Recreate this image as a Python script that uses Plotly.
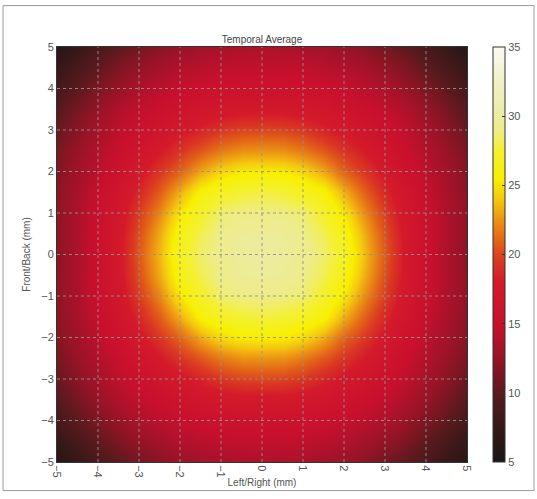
import plotly.graph_objects as go

# Grid coordinates (mm)
x_mm = [-5.0, -4.5, -4.0, -3.5, -3.0, -2.5, -2.0, -1.5, -1.0, -0.5, 0.0,
        0.5, 1.0, 1.5, 2.0, 2.5, 3.0, 3.5, 4.0, 4.5, 5.0]
y_mm = list(x_mm)

# Temporal average values, one list per row (y value in the name)
row_y_5 = [6.0, 7.5, 8.9, 10.1, 11.1, 12.0, 12.6, 13.1, 13.4, 13.6, 13.7, 13.6, 13.4, 13.1, 12.6, 12.0, 11.1, 10.1, 8.9, 7.5, 6.0]
row_y_45 = [7.4, 8.8, 10.2, 11.5, 12.4, 13.2, 13.9, 14.2, 14.5, 14.7, 14.7, 14.7, 14.5, 14.2, 13.9, 13.2, 12.4, 11.5, 10.2, 8.8, 7.4]
row_y_4 = [8.6, 10.1, 11.5, 12.6, 13.7, 14.3, 14.9, 15.3, 15.7, 15.8, 15.8, 15.8, 15.7, 15.3, 14.9, 14.3, 13.7, 12.6, 11.5, 10.1, 8.6]
row_y_35 = [9.7, 11.2, 12.5, 13.8, 14.6, 15.3, 16.1, 16.8, 17.2, 17.5, 17.5, 17.5, 17.2, 16.8, 16.1, 15.3, 14.6, 13.8, 12.5, 11.2, 9.7]
row_y_3 = [10.6, 12.0, 13.3, 14.5, 15.5, 16.6, 17.6, 18.5, 19.4, 19.9, 20.0, 19.9, 19.4, 18.5, 17.6, 16.6, 15.5, 14.5, 13.3, 12.0, 10.6]
row_y_25 = [11.3, 12.6, 13.9, 15.1, 16.6, 18.0, 19.3, 20.6, 21.7, 22.4, 22.5, 22.4, 21.7, 20.6, 19.3, 18.0, 16.6, 15.1, 13.9, 12.6, 11.3]
row_y_2 = [11.7, 13.1, 14.4, 15.9, 17.6, 19.4, 21.0, 23.1, 24.6, 25.3, 25.4, 25.3, 24.6, 23.1, 21.0, 19.4, 17.6, 15.9, 14.4, 13.1, 11.7]
row_y_15 = [12.0, 13.4, 14.9, 16.7, 18.7, 20.8, 23.3, 25.8, 26.9, 27.6, 27.8, 27.6, 26.9, 25.8, 23.3, 20.8, 18.7, 16.7, 14.9, 13.4, 12.0]
row_y_1 = [12.2, 13.6, 15.3, 17.2, 19.6, 22.2, 25.2, 27.2, 28.6, 28.9, 29.0, 28.9, 28.6, 27.2, 25.2, 22.2, 19.6, 17.2, 15.3, 13.6, 12.2]
row_y_05 = [12.1, 13.7, 15.4, 17.5, 20.3, 23.2, 26.4, 28.1, 29.1, 29.6, 29.7, 29.6, 29.1, 28.1, 26.4, 23.2, 20.3, 17.5, 15.4, 13.7, 12.1]
row_y_0 = [12.0, 13.6, 15.4, 17.6, 20.6, 23.6, 27.0, 28.5, 29.3, 29.8, 30.0, 29.8, 29.3, 28.5, 27.0, 23.6, 20.6, 17.6, 15.4, 13.6, 12.0]

z_vals = [row_y_5, row_y_45, row_y_4, row_y_35, row_y_3, row_y_25, row_y_2,
          row_y_15, row_y_1, row_y_05, row_y_0, row_y_05, row_y_1, row_y_15,
          row_y_2, row_y_25, row_y_3, row_y_35, row_y_4, row_y_45, row_y_5]

axis_ticks = [-5, -4, -3, -2, -1, 0, 1, 2, 3, 4, 5]
cbar_ticks = [5, 10, 15, 20, 25, 30, 35]
zmin, zmax = 5, 35

def n(v):
    return (v - zmin) / (zmax - zmin)

colorscale = [
    [n(5), "#1c1616"],
    [n(7.5), "#361818"],
    [n(10), "#5a1a1e"],
    [n(12.5), "#961426"],
    [n(15), "#c8102e"],
    [n(18), "#d41a2a"],
    [n(19.5), "#da3822"],
    [n(21), "#e26418"],
    [n(22.5), "#ec9414"],
    [n(24), "#f4c810"],
    [n(25.5), "#f8f000"],
    [n(27.5), "#f4f030"],
    [n(29), "#eeec88"],
    [n(30.5), "#ececac"],
    [n(32.5), "#f0f0c8"],
    [n(35), "#fafaf4"],
]

font_family = "Liberation Sans, Arial, sans-serif"

fig = go.Figure()
fig.add_trace(go.Heatmap(
    x=x_mm, y=y_mm, z=z_vals, zmin=zmin, zmax=zmax,
    colorscale=colorscale, zsmooth="best",
    colorbar=dict(
        x=1.063, xanchor="left", y=0.5, yanchor="middle", len=1.0,
        lenmode="fraction", thickness=12, ypad=0, xpad=0,
        outlinewidth=1, outlinecolor="#333",
        tickvals=cbar_ticks, ticks="inside", ticklen=3, tickcolor="#333",
        tickfont=dict(size=11, color="#555", family=font_family),
    ),
))

# dotted grid lines drawn on top of the image
shapes = []
for t in axis_ticks[1:-1]:
    shapes.append(dict(type="line", xref="x", yref="paper", x0=t, x1=t, y0=0, y1=1,
                       line=dict(color="rgba(150,145,140,0.9)", width=1, dash="dot")))
    shapes.append(dict(type="line", xref="paper", yref="y", x0=0, x1=1, y0=t, y1=t,
                       line=dict(color="rgba(150,145,140,0.9)", width=1, dash="dot")))
# figure frame
shapes.append(dict(type="rect", xref="paper", yref="paper",
                   x0=-0.1317, x1=1.1634, y0=-0.0689, y1=1.0998,
                   line=dict(color="#9a9a9a", width=1), layer="below"))

fig.update_layout(
    width=537, height=499,
    margin=dict(l=57, r=70, t=47, b=31),
    paper_bgcolor="white", plot_bgcolor="white",
    font=dict(family=font_family, size=10, color="#555"),
    title=dict(text="Temporal Average", x=0.5, xref="paper", xanchor="center",
               y=1.0, yref="paper", yanchor="bottom", pad=dict(b=4),
               font=dict(size=10, color="#444", family=font_family)),
    shapes=shapes,
)
fig.update_xaxes(range=[-5, 5], tickvals=axis_ticks, tickangle=90,
                 showgrid=False, zeroline=False, showline=True, mirror=True,
                 linecolor="#333", linewidth=1, ticks="",
                 tickfont=dict(size=11, color="#555"),
                 title=dict(text="Left/Right (mm)", standoff=2, font=dict(size=10, color="#555")))
fig.update_yaxes(range=[-5, 5], tickvals=axis_ticks,
                 showgrid=False, zeroline=False, showline=True, mirror=True,
                 linecolor="#333", linewidth=1, ticks="",
                 tickfont=dict(size=11, color="#555"),
                 title=dict(text="Front/Back (mm)", standoff=8, font=dict(size=10, color="#555")))

fig.write_html("out.html")
